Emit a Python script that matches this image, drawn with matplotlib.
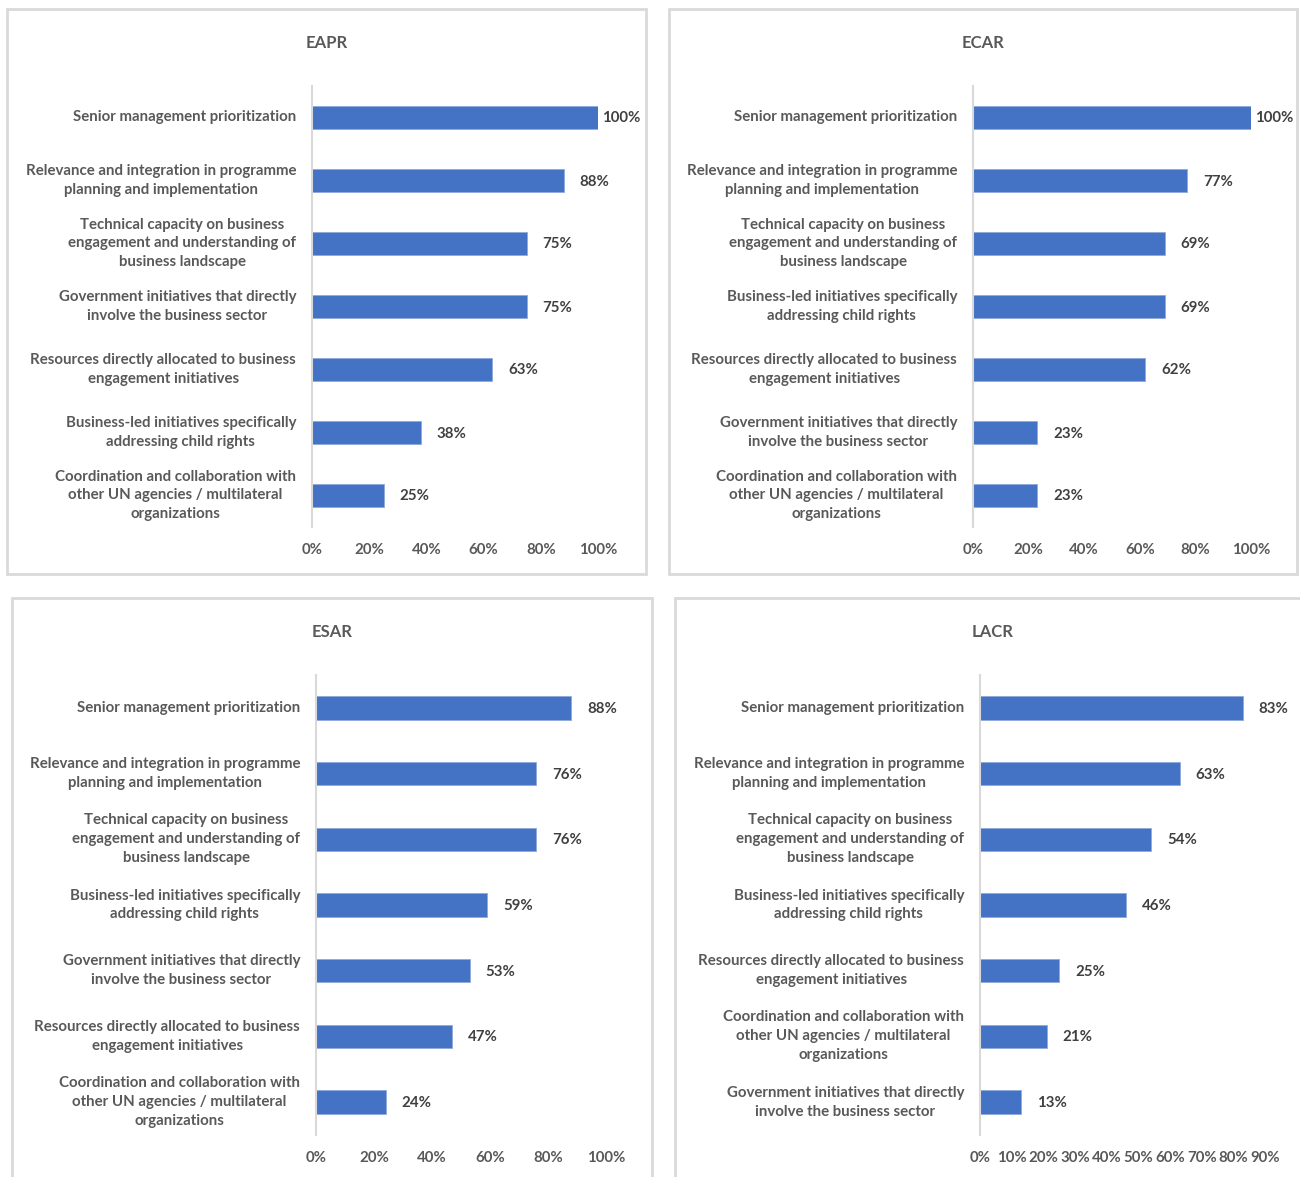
import numpy as np
import matplotlib.pyplot as plt
from matplotlib.patches import Rectangle
from matplotlib.ticker import FuncFormatter

plt.rcParams['font.family'] = ['Lato', 'DejaVu Sans']
plt.rcParams['font.weight'] = 'bold'

W, H = 1300, 1177

# data (top bar first)
eapr_labels = ["Senior management prioritization",
               "Relevance and integration in programme\nplanning and implementation",
               "Technical capacity on business\nengagement and understanding of\nbusiness landscape",
               "Government initiatives that directly\ninvolve the business sector",
               "Resources directly allocated to business\nengagement initiatives",
               "Business-led initiatives specifically\naddressing child rights",
               "Coordination and collaboration with\nother UN agencies / multilateral\norganizations"]
eapr_values = [100, 88, 75, 75, 63, 38, 25]

ecar_labels = ["Senior management prioritization",
               "Relevance and integration in programme\nplanning and implementation",
               "Technical capacity on business\nengagement and understanding of\nbusiness landscape",
               "Business-led initiatives specifically\naddressing child rights",
               "Resources directly allocated to business\nengagement initiatives",
               "Government initiatives that directly\ninvolve the business sector",
               "Coordination and collaboration with\nother UN agencies / multilateral\norganizations"]
ecar_values = [100, 77, 69, 69, 62, 23, 23]

esar_labels = ["Senior management prioritization",
               "Relevance and integration in programme\nplanning and implementation",
               "Technical capacity on business\nengagement and understanding of\nbusiness landscape",
               "Business-led initiatives specifically\naddressing child rights",
               "Government initiatives that directly\ninvolve the business sector",
               "Resources directly allocated to business\nengagement initiatives",
               "Coordination and collaboration with\nother UN agencies / multilateral\norganizations"]
esar_values = [88, 76, 76, 59, 53, 47, 24]

lacr_labels = ["Senior management prioritization",
               "Relevance and integration in programme\nplanning and implementation",
               "Technical capacity on business\nengagement and understanding of\nbusiness landscape",
               "Business-led initiatives specifically\naddressing child rights",
               "Resources directly allocated to business\nengagement initiatives",
               "Coordination and collaboration with\nother UN agencies / multilateral\norganizations",
               "Government initiatives that directly\ninvolve the business sector"]
lacr_values = [83, 63, 54, 46, 25, 21, 13]

BAR = '#4472C4'
TXT = '#595959'
LBL = '#404040'
GRID = '#d9d9d9'

fig = plt.figure(figsize=(W / 100, H / 100), dpi=100)


def frac(l, t, r, b):
    return [l / W, 1 - b / H, (r - l) / W, (b - t) / H]


def panel_box(l, t, r, b):
    fig.patches.append(Rectangle((l / W, 1 - b / H), (r - l) / W, (b - t) / H,
                                 transform=fig.transFigure, fill=False,
                                 edgecolor=GRID, linewidth=2))


def draw(title, labels, values, ax_box, border, xmax, step):
    panel_box(*border)
    cx = (border[0] + border[2]) / 2
    fig.text(cx / W, 1 - (border[1] + 34) / H, title, ha='center', va='center',
             fontsize=12, color=TXT, fontweight='bold')
    ax = fig.add_axes(frac(*ax_box))
    y = np.arange(len(values))
    v = np.array(values) / 100
    ax.barh(y, v, height=0.355, color=BAR, edgecolor='#8eaadb', linewidth=0.6)
    ax.set_ylim(len(values) - 0.5, -0.5)
    ax.set_xlim(0, xmax)
    ax.set_xticks(np.arange(0, xmax + 1e-9, step))
    ax.xaxis.set_major_formatter(FuncFormatter(lambda x, p: f"{x * 100:.0f}%"))
    ax.set_yticks(y)
    ax.set_yticklabels(labels, fontsize=10.8, color=TXT, linespacing=1.45)
    for t in ax.get_yticklabels():
        t.set_multialignment('center')
        t.set_va('center')
    ax.tick_params(axis='y', length=0, pad=11.5)
    ax.tick_params(axis='x', length=0, pad=11.5, labelsize=10.8, labelcolor=TXT)
    for s in ['top', 'right', 'bottom']:
        ax.spines[s].set_visible(False)
    ax.spines['left'].set_color(GRID)
    ax.spines['left'].set_linewidth(1.5)
    ax.set_facecolor('none')
    for yi, vi in zip(y, v):
        off = 4 if vi >= xmax - 1e-9 else 16
        ax.annotate(f"{vi * 100:.0f}%", (vi, yi), xytext=(off, -1),
                    textcoords='offset pixels', va='center', ha='left',
                    fontsize=10.8, color=LBL, annotation_clip=False)


draw("EAPR", eapr_labels, eapr_values, (312, 86, 598, 527), (7, 9, 646, 574), 1.0, 0.2)
draw("ECAR", ecar_labels, ecar_values, (973, 86, 1251, 527), (669, 9, 1297, 574), 1.0, 0.2)
draw("ESAR", esar_labels, esar_values, (316, 675, 606, 1135), (12, 598, 652, 1190), 1.0, 0.2)
draw("LACR", lacr_labels, lacr_values, (980, 675, 1265, 1135), (675, 598, 1310, 1190), 0.9, 0.1)

fig.savefig('out.png', dpi=100, facecolor='white')
